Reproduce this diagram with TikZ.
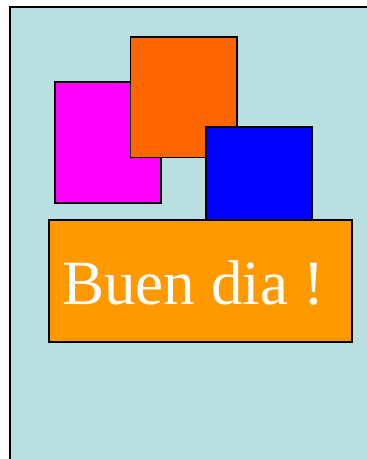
\documentclass[tikz,border=0pt]{standalone}
\usepackage{fontspec}
\setmainfont{Liberation Serif}
\definecolor{bgblue}{HTML}{BADFE1}
\definecolor{magentabox}{HTML}{FF00FF}
\definecolor{redorange}{HTML}{FF6600}
\definecolor{bluebox}{HTML}{0000FF}
\definecolor{orangebox}{HTML}{FF9900}
\tikzset{
  box/.style={draw=black, line width=1.4pt},
}
\begin{document}
\begin{tikzpicture}[x=1pt,y=-1pt]
\useasboundingbox (0,0) rectangle (367,459);
\fill[bgblue] (10,7) rectangle (370,465);
\draw[line width=1.4pt] (10,465) -- (10,7) -- (370,7);
\path[box, fill=magentabox] (55,82) rectangle (161,203);
\path[box, fill=redorange] (130.5,37) rectangle (237,157.5);
\path[box, fill=bluebox] (206,127) rectangle (312,225);
\path[box, fill=orangebox] (49,220) rectangle (352,342);
\node[text=white, font=\fontsize{63}{70}\selectfont, anchor=base] (t) at (193.5,304) {Buen dia !};
\end{tikzpicture}
\end{document}
